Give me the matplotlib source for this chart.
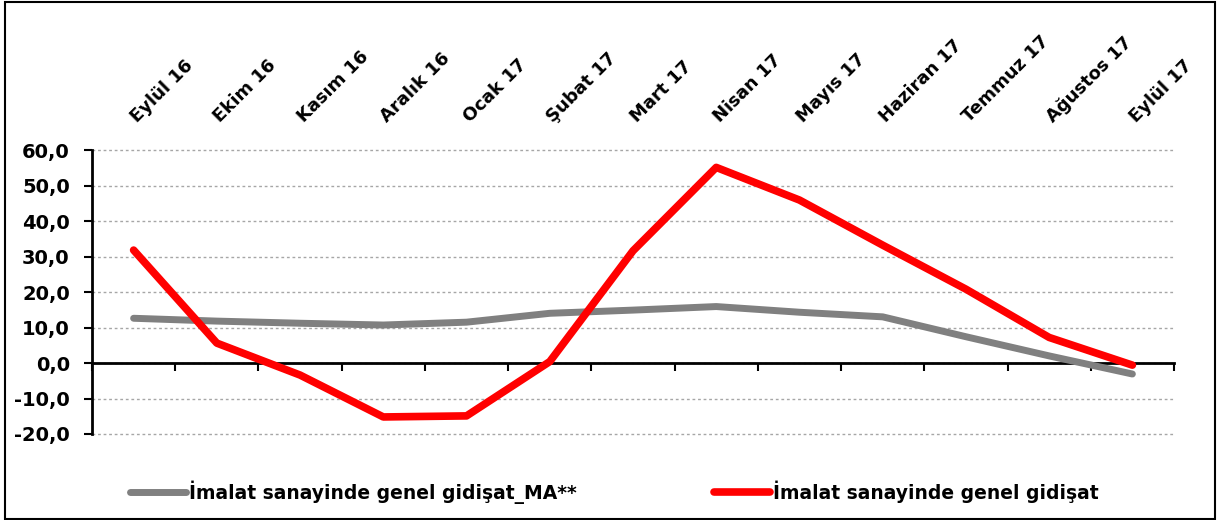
import matplotlib
matplotlib.use("Agg")
import matplotlib.pyplot as plt
from matplotlib.patches import Rectangle
from matplotlib.ticker import FuncFormatter, MultipleLocator

# data
months = ["Eylül 16", "Ekim 16", "Kasım 16", "Aralık 16", "Ocak 17", "Şubat 17", "Mart 17",
          "Nisan 17", "Mayıs 17", "Haziran 17", "Temmuz 17", "Ağustos 17", "Eylül 17"]
gidisat_ma = [12.6, 11.8, 11.2, 10.7, 11.5, 14.0, 14.9, 15.9, 14.3, 13.0, 7.4, 2.0, -3.1]
gidisat = [31.8, 5.6, -3.4, -15.2, -14.9, 0.4, 31.6, 55.1, 45.9, 33.2, 20.8, 7.2, -0.6]

label_ma = "İmalat sanayinde genel gidişat_MA**"
label_raw = "İmalat sanayinde genel gidişat"

plt.rcParams['font.family'] = 'DejaVu Sans'
plt.rcParams['font.weight'] = 'bold'

fig = plt.figure(figsize=(12.17, 5.2), dpi=100)
ax = fig.add_axes([92/1217, 1 - 434/520, (1174 - 92)/1217, (434 - 150)/520])

x = list(range(len(months)))
ax.plot(x, gidisat_ma, color='#808080', lw=5, solid_capstyle='round', solid_joinstyle='round',
        label=label_ma, zorder=3)
ax.plot(x, gidisat, color='#ff0000', lw=5.5, solid_capstyle='round', solid_joinstyle='round',
        label=label_raw, zorder=4)

ax.set_xlim(-0.5, len(months) - 0.5)
ax.set_ylim(-20, 60)
ax.yaxis.set_major_locator(MultipleLocator(10))
ax.yaxis.set_major_formatter(FuncFormatter(lambda v, p: f"{v:.1f}".replace('.', ',')))
ax.grid(axis='y', color='#a6a6a6', lw=1, linestyle=(0, (2, 2)), zorder=0)
for gl in ax.get_ygridlines():
    gl.set_clip_on(False)

for s in ['top', 'right']:
    ax.spines[s].set_visible(False)
ax.spines['bottom'].set_position(('data', 0))
ax.spines['bottom'].set_linewidth(2)
ax.spines['left'].set_linewidth(2)
ax.spines['bottom'].set_zorder(2)

# category labels on top, boundary ticks on the zero line
ax.set_xticks(x)
ax.set_xticks([i - 0.5 for i in range(len(months) + 1)], minor=True)
ax.set_xticklabels(months)
ax.tick_params(axis='x', which='major', top=True, bottom=False, labeltop=True, labelbottom=False,
               length=0, pad=22, labelsize=13)
ax.tick_params(axis='x', which='minor', top=False, bottom=True, direction='out', length=6, width=1.5)
for t in ax.get_xticklabels():
    t.set_rotation(45)
    t.set_ha('left')
    t.set_va('center')
    t.set_rotation_mode('anchor')
ax.tick_params(axis='y', direction='out', length=6, width=1.5, labelsize=14, pad=10)

fig.legend(loc='center', bbox_to_anchor=(614/1217, 0.054), ncol=2, frameon=False,
           fontsize=13.5, handlelength=3.0, handletextpad=0.15, columnspacing=7.3)

fig.patches.append(Rectangle((0.004, 0.002), 0.994, 0.994, transform=fig.transFigure,
                             fill=False, lw=1.5, edgecolor='black'))

fig.savefig("out.png", dpi=100)
